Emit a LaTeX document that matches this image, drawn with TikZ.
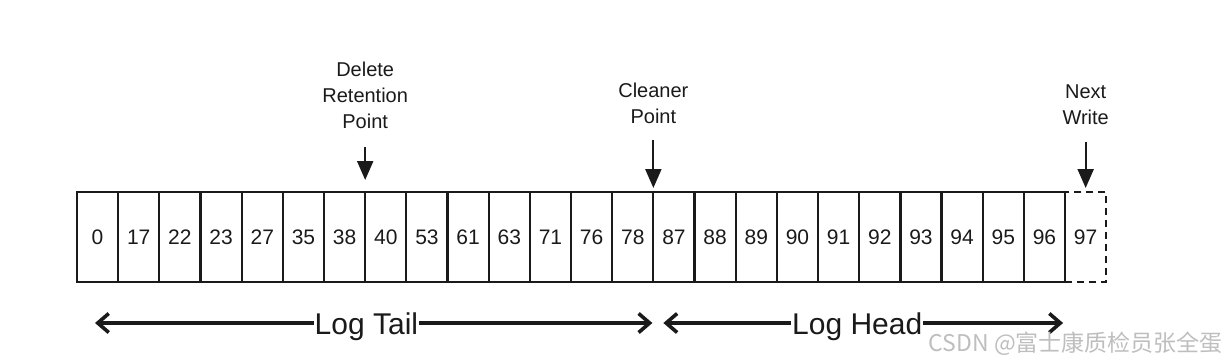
\documentclass[tikz,border=0pt]{standalone}
\usepackage{fontspec}
\setmainfont{Liberation Sans}
\newfontfamily\cjk{Noto Sans CJK SC}
\usetikzlibrary{arrows.meta, positioning}
\definecolor{ink}{HTML}{1A1A1A}
\definecolor{wmgray}{HTML}{BEBEBE}
\tikzset{
  cell/.style={draw=ink, line width=2.2pt, minimum width=41.17pt, minimum height=90pt,
               inner sep=0pt, outer sep=0pt, text=ink, font=\fontsize{21}{25}\selectfont},
  opencell/.style={cell, dashed, dash pattern=on 7pt off 5pt},
  lbl/.style={align=center, inner sep=0pt, outer sep=0pt, text=ink,
              font=\fontsize{20}{26}\selectfont},
  pointer/.style={draw=ink, line width=2.2pt, -{Triangle[length=19pt, width=16pt]}},
  span/.style={draw=ink, line width=3.6pt,
               {Straight Barb[length=11pt, width=19pt]}-{Straight Barb[length=11pt, width=19pt]}},
  spanlbl/.style={fill=white, inner sep=1pt, text=ink, font=\fontsize{30}{36}\selectfont},
  wmark/.style={inner sep=0pt, text=wmgray, font=\cjk\fontsize{23}{28}\selectfont},
}
\begin{document}
\begin{tikzpicture}
\useasboundingbox (0,0) rectangle (1227pt,360pt);
\node[cell] (c0) at (97.58pt,123pt) {0};
\node[cell, right=0pt of c0] (c1) {17};
\node[cell, right=0pt of c1] (c2) {22};
\node[cell, right=0pt of c2] (c3) {23};
\node[cell, right=0pt of c3] (c4) {27};
\node[cell, right=0pt of c4] (c5) {35};
\node[cell, right=0pt of c5] (c6) {38};
\node[cell, right=0pt of c6] (c7) {40};
\node[cell, right=0pt of c7] (c8) {53};
\node[cell, right=0pt of c8] (c9) {61};
\node[cell, right=0pt of c9] (c10) {63};
\node[cell, right=0pt of c10] (c11) {71};
\node[cell, right=0pt of c11] (c12) {76};
\node[cell, right=0pt of c12] (c13) {78};
\node[cell, right=0pt of c13] (c14) {87};
\node[cell, right=0pt of c14] (c15) {88};
\node[cell, right=0pt of c15] (c16) {89};
\node[cell, right=0pt of c16] (c17) {90};
\node[cell, right=0pt of c17] (c18) {91};
\node[cell, right=0pt of c18] (c19) {92};
\node[cell, right=0pt of c19] (c20) {93};
\node[cell, right=0pt of c20] (c21) {94};
\node[cell, right=0pt of c21] (c22) {95};
\node[cell, right=0pt of c22] (c23) {96};
\node[opencell, right=0pt of c23] (c24) {97};
% pointers above the log
\node[lbl, above=63pt of c6.north east] (del) {Delete\\Retention\\Point};
\node[lbl, above=68pt of c13.north east] (cln) {Cleaner\\Point};
\node[lbl, above=67pt of c24.north] (nxt) {Next\\Write};
\draw[pointer, shorten <=18pt, shorten >=12pt] (del) -- (c6.north east);
\draw[pointer, shorten <=16pt, shorten >=4pt] (cln) -- (c13.north east);
\draw[pointer, shorten <=17pt, shorten >=4pt] (nxt) -- (c24.north);
% tail and head spans
\coordinate (tailL) at ([xshift=18pt, yshift=-41pt]c0.south west);
\coordinate (tailR) at ([xshift=-1pt, yshift=-41pt]c13.south east);
\coordinate (headL) at ([xshift=10pt, yshift=-41pt]c14.south west);
\coordinate (headR) at ([xshift=-2pt, yshift=-41pt]c23.south east);
\draw[span] (tailL) -- node[spanlbl, pos=0.487, yshift=-4pt] (tail) {Log Tail} (tailR);
\draw[span] (headL) -- node[spanlbl, pos=0.485, yshift=-4pt] (head) {Log Head} (headR);
\node[wmark, anchor=east] (wm) at (1223pt,16pt) {CSDN @富士康质检员张全蛋};
\end{tikzpicture}
\end{document}
